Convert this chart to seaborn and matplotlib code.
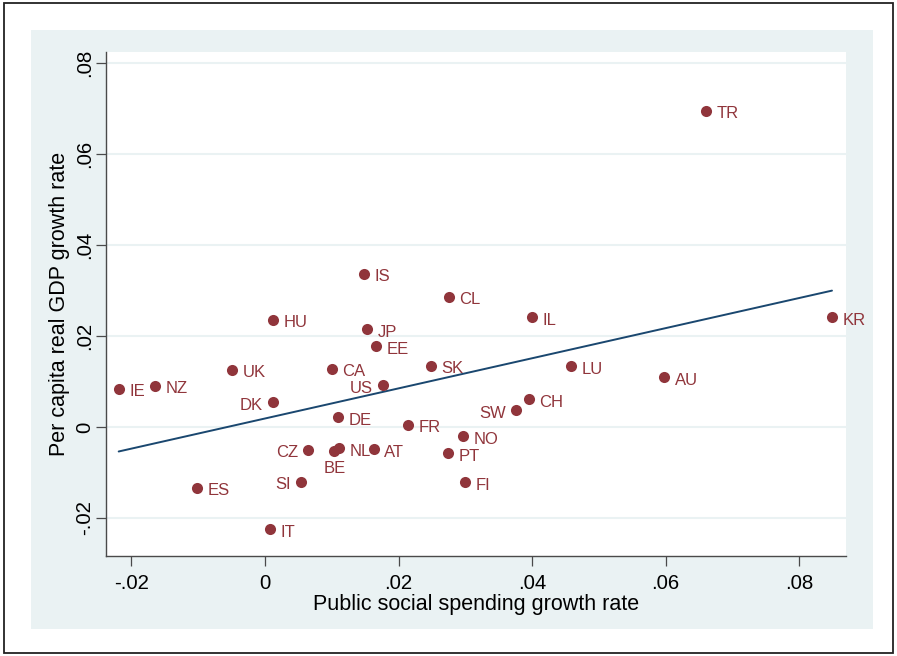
import matplotlib
matplotlib.use("Agg")
import matplotlib.pyplot as plt
from matplotlib.patches import Rectangle
import pandas as pd
import seaborn as sns

# OECD countries: growth of public social spending vs. per capita real GDP growth
countries = ["IE", "NZ", "ES", "UK", "IT", "HU", "DK", "SI", "CZ", "CA", "BE",
             "NL", "DE", "IS", "JP", "AT", "EE", "US", "FR", "SK", "PT", "CL",
             "NO", "FI", "SW", "CH", "IL", "LU", "AU", "TR", "KR"]
social_growth = [-0.0219, -0.0164, -0.0101, -0.0049, 0.0008, 0.0012, 0.0012,
                 0.0054, 0.0065, 0.0100, 0.0104, 0.0111, 0.0109, 0.0149, 0.0153,
                 0.0163, 0.0167, 0.0177, 0.0214, 0.0249, 0.0274, 0.0275, 0.0297,
                 0.0300, 0.0376, 0.0395, 0.0400, 0.0458, 0.0598, 0.0661, 0.0849]
gdp_growth = [0.0084, 0.0091, -0.0134, 0.0126, -0.0225, 0.0236, 0.0054,
              -0.0121, -0.0050, 0.0128, -0.0053, -0.0047, 0.0021, 0.0337, 0.0215,
              -0.0049, 0.0177, 0.0092, 0.0005, 0.0135, -0.0058, 0.0287, -0.0021,
              -0.0122, 0.0037, 0.0061, 0.0242, 0.0134, 0.0109, 0.0696, 0.0242]

x_ticks = [-0.02, 0.0, 0.02, 0.04, 0.06, 0.08]
x_tick_labels = ["-.02", "0", ".02", ".04", ".06", ".08"]
y_ticks = [-0.02, 0.0, 0.02, 0.04, 0.06, 0.08]
y_tick_labels = ["-.02", "0", ".02", ".04", ".06", ".08"]

# marker label placement (default: to the right of the marker)
labels_left = {"US", "DK", "CZ", "SI", "SW"}
labels_below = {"BE"}

MAROON = "#90353B"
NAVY = "#1A476F"
PANEL = "#EAF2F3"
AXIS = "#4a4a4a"

sns.set_theme(style="white")
plt.rcParams["font.family"] = ["Liberation Sans", "DejaVu Sans"]

df = pd.DataFrame({"country": countries, "social": social_growth, "gdp": gdp_growth})

W, H = 897, 656
fig = plt.figure(figsize=(W / 100, H / 100), dpi=100)
fig.patch.set_facecolor("white")

# graph region background and outer frame
fig.patches.append(Rectangle((31 / W, 1 - 629 / H), 842 / W, 599 / H,
                             transform=fig.transFigure, facecolor=PANEL,
                             edgecolor="none", zorder=-2))
fig.patches.append(Rectangle((4 / W, 1 - 653 / H), 889 / W, 650 / H,
                             transform=fig.transFigure, fill=False,
                             edgecolor="#222222", lw=1.3, zorder=-1))

ax = fig.add_axes([106 / W, 1 - 556 / H, 740 / W, 504 / H])
ax.set_facecolor("white")

sns.regplot(data=df, x="social", y="gdp", scatter=False, ci=None,
            color=NAVY, line_kws={"lw": 1.4}, truncate=True, ax=ax)
sns.scatterplot(data=df, x="social", y="gdp", color=MAROON, s=64,
                linewidth=0, zorder=3, ax=ax)

for name, xv, yv in zip(countries, social_growth, gdp_growth):
    if name in labels_left:
        off, ha = (-7.5, -2.2), "right"
    elif name in labels_below:
        off, ha = (0.5, -12.5), "center"
    else:
        off, ha = (7.5, -2.2), "left"
    ax.annotate(name, (xv, yv), xytext=off, textcoords="offset points",
                ha=ha, va="center", fontsize=12, color=MAROON, zorder=4)

ax.set_xlim(-0.0238, 0.0870)
ax.set_ylim(-0.0284, 0.0825)
ax.set_xticks(x_ticks)
ax.set_xticklabels(x_tick_labels)
ax.set_yticks(y_ticks)
ax.set_yticklabels(y_tick_labels)

ax.set_axisbelow(True)
ax.yaxis.grid(True, color=PANEL, lw=1.5)
ax.xaxis.grid(False)

for side in ("top", "right"):
    ax.spines[side].set_visible(False)
for side in ("left", "bottom"):
    ax.spines[side].set_color(AXIS)
    ax.spines[side].set_linewidth(1.0)

ax.tick_params(axis="both", direction="out", length=7, width=0.9, color=AXIS,
               labelsize=14.7, labelcolor="black", bottom=True, left=True)
ax.tick_params(axis="x", pad=6)
ax.tick_params(axis="y", pad=1.5, labelrotation=90)
for lbl in ax.get_yticklabels():
    lbl.set_va("center")

ax.set_xlabel("Public social spending growth rate", fontsize=15.5,
              color="black", labelpad=1)
ax.set_ylabel("Per capita real GDP growth rate", fontsize=15.5, color="black")
ax.yaxis.set_label_coords(-0.0486, 0.5)

fig.savefig("out.png", dpi=100)
